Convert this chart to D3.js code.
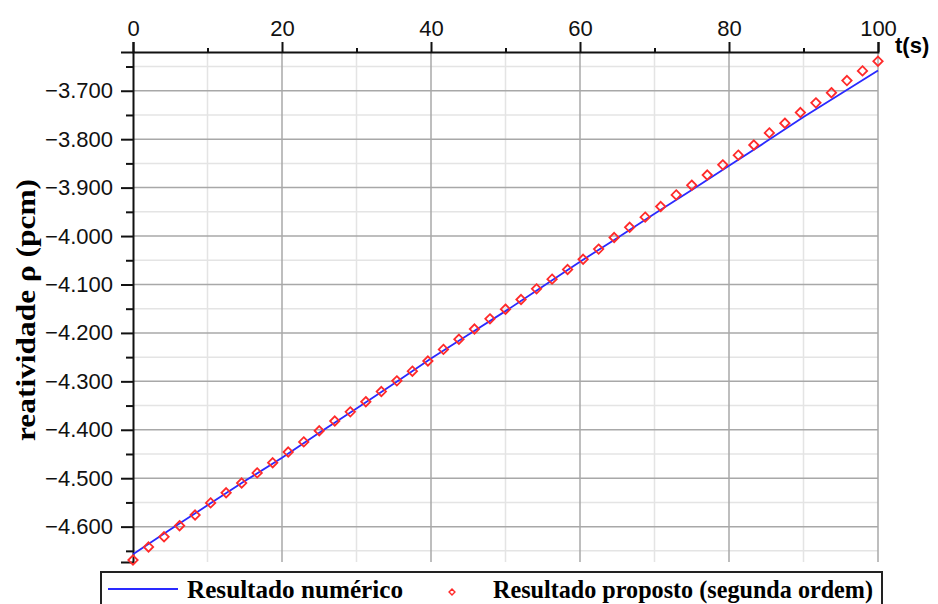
<!DOCTYPE html>
<html>
<head>
<meta charset="utf-8">
<script src="https://cdn.jsdelivr.net/npm/d3@7"></script>
<style>
  body { margin: 0; background: #fff; }
  svg { display: block; }
</style>
</head>
<body>
<svg id="chart" width="938" height="604"></svg>
<script>
// tempo (s) e reatividade (pcm) - resultado numérico
var numT = [0, 5, 10, 15, 20, 25, 30, 35, 40, 45, 50, 55, 60, 65, 70, 75, 80, 85, 90, 95, 100];
var numRho = [-4.657, -4.606, -4.556, -4.506, -4.458, -4.406, -4.356, -4.305, -4.253, -4.204, -4.155,
              -4.104, -4.053, -4.004, -3.954, -3.905, -3.855, -3.805, -3.754, -3.706, -3.658];

// resultado proposto (segunda ordem), 49 pontos de 0 a 100 s
var propRho = [-4.669, -4.642, -4.621, -4.598, -4.576, -4.551, -4.530, -4.510, -4.489, -4.468,
               -4.446, -4.425, -4.402, -4.382, -4.363, -4.342, -4.321, -4.299, -4.279, -4.258,
               -4.234, -4.213, -4.192, -4.171, -4.151, -4.131, -4.109, -4.089, -4.069, -4.048,
               -4.027, -4.003, -3.982, -3.961, -3.939, -3.915, -3.895, -3.874, -3.853, -3.833,
               -3.812, -3.787, -3.767, -3.745, -3.725, -3.704, -3.679, -3.659, -3.639];
var propT = propRho.map(function(d, i){ return i * 100 / 48; });

var xTicks = [0, 20, 40, 60, 80, 100];
var xMinor = [10, 30, 50, 70, 90];
var yTicks = [-4.6, -4.5, -4.4, -4.3, -4.2, -4.1, -4.0, -3.9, -3.8, -3.7];
var yMinor = [-4.65, -4.55, -4.45, -4.35, -4.25, -4.15, -4.05, -3.95, -3.85, -3.75, -3.65];

var svg = d3.select("#chart");
var plot = {left: 133, right: 878, top: 52, bottom: 562};

var x = d3.scaleLinear().domain([0, 100]).range([plot.left, plot.right]);
var y = d3.scaleLinear().domain([-4.673, -3.62]).range([plot.bottom, plot.top]);

// grade
var grid = svg.append("g");
grid.selectAll(".vminor").data(xMinor).enter().append("line")
	.attr("x1", function(d){ return x(d); }).attr("x2", function(d){ return x(d); })
	.attr("y1", plot.top).attr("y2", plot.bottom)
	.attr("stroke", "#e4e4e4").attr("stroke-width", 1.5);
grid.selectAll(".hminor").data(yMinor).enter().append("line")
	.attr("x1", plot.left).attr("x2", plot.right)
	.attr("y1", function(d){ return y(d); }).attr("y2", function(d){ return y(d); })
	.attr("stroke", "#e4e4e4").attr("stroke-width", 1.5);
grid.selectAll(".vmajor").data(xTicks.slice(1)).enter().append("line")
	.attr("x1", function(d){ return x(d); }).attr("x2", function(d){ return x(d); })
	.attr("y1", plot.top).attr("y2", plot.bottom)
	.attr("stroke", "#a8a8a8").attr("stroke-width", 1.5);
grid.selectAll(".hmajor").data(yTicks).enter().append("line")
	.attr("x1", plot.left).attr("x2", plot.right)
	.attr("y1", function(d){ return y(d); }).attr("y2", function(d){ return y(d); })
	.attr("stroke", "#a8a8a8").attr("stroke-width", 1.5);

// eixo x (no topo)
svg.append("g")
	.attr("transform", "translate(0," + plot.top + ")")
	.call(d3.axisTop(x).tickValues(xTicks).tickSize(10).tickPadding(6).tickFormat(d3.format("d")));
svg.append("g")
	.attr("transform", "translate(0," + plot.top + ")")
	.call(d3.axisTop(x).tickValues(xMinor).tickSize(4).tickFormat(""))
	.select(".domain").remove();

// eixo y
svg.append("g")
	.attr("transform", "translate(" + plot.left + ",0)")
	.call(d3.axisLeft(y).tickValues(yTicks).tickSize(12).tickPadding(8).tickFormat(d3.format(".3f")));
svg.append("g")
	.attr("transform", "translate(" + plot.left + ",0)")
	.call(d3.axisLeft(y).tickValues(yMinor).tickSize(7).tickFormat(""))
	.select(".domain").remove();

svg.selectAll(".domain").attr("stroke", "#111").attr("stroke-width", 2);
svg.selectAll(".tick line").attr("stroke", "#111").attr("stroke-width", 2);
svg.selectAll(".tick text")
	.style("font-family", "'Liberation Sans', Arial, sans-serif")
	.style("font-size", "22px").attr("fill", "#111");

// linha do resultado numérico
var line = d3.line()
	.x(function(d){ return x(d[0]); })
	.y(function(d){ return y(d[1]); });
svg.append("path")
	.datum(numT.map(function(t, i){ return [t, numRho[i]]; }))
	.attr("d", line)
	.attr("fill", "none")
	.attr("stroke", "#2a2aff")
	.attr("stroke-width", 1.8);

// losangos do resultado proposto
var diamond = d3.symbol().type(d3.symbolDiamond2).size(56);
svg.selectAll(".prop").data(propRho).enter().append("path")
	.attr("d", diamond)
	.attr("transform", function(d, i){ return "translate(" + x(propT[i]) + "," + y(d) + ")"; })
	.attr("fill", "none")
	.attr("stroke", "#ff2a2a")
	.attr("stroke-width", 1.8);

// títulos
svg.append("text")
	.attr("x", 895).attr("y", 53)
	.text("t(s)")
	.style("font-family", "'Liberation Sans', Arial, sans-serif")
	.style("font-weight", "bold").style("font-size", "22px");

svg.append("text")
	.attr("transform", "translate(35,310) rotate(-90)")
	.attr("text-anchor", "middle")
	.attr("textLength", 262).attr("lengthAdjust", "spacingAndGlyphs")
	.text("reatividade ρ (pcm)")
	.style("font-family", "'Liberation Serif', 'Times New Roman', serif")
	.style("font-weight", "bold").style("font-size", "27px");

// legenda
var legend = svg.append("g");
legend.append("rect")
	.attr("x", 101).attr("y", 572).attr("width", 781).attr("height", 50)
	.attr("fill", "#fff").attr("stroke", "#222").attr("stroke-width", 2);
legend.append("line")
	.attr("x1", 108).attr("x2", 178).attr("y1", 589).attr("y2", 589)
	.attr("stroke", "#2a2aff").attr("stroke-width", 2);
legend.append("text")
	.attr("x", 187).attr("y", 598)
	.attr("textLength", 216).attr("lengthAdjust", "spacingAndGlyphs")
	.text("Resultado numérico")
	.style("font-family", "'Liberation Serif', 'Times New Roman', serif")
	.style("font-weight", "bold").style("font-size", "25px");
legend.append("path")
	.attr("d", d3.symbol().type(d3.symbolDiamond2).size(22))
	.attr("transform", "translate(452,592)")
	.attr("fill", "none").attr("stroke", "#ff2a2a").attr("stroke-width", 1.4);
legend.append("text")
	.attr("x", 493).attr("y", 598)
	.attr("textLength", 380).attr("lengthAdjust", "spacingAndGlyphs")
	.text("Resultado proposto (segunda ordem)")
	.style("font-family", "'Liberation Serif', 'Times New Roman', serif")
	.style("font-weight", "bold").style("font-size", "25px");
</script>
</body>
</html>
